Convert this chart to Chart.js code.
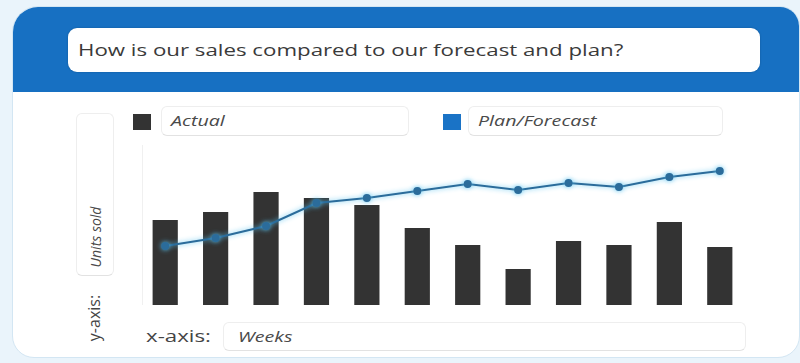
<!DOCTYPE html>
<html>
<head>
<meta charset="utf-8">
<script src="https://cdn.jsdelivr.net/npm/chart.js@4/dist/chart.umd.min.js"></script>
<style>
    html, body {
        margin: 0;
        padding: 0;
        width: 800px;
        height: 363px;
        overflow: hidden;
        background: #eaf4fb;
        font-family: "Open Sans", "Noto Sans", sans-serif;
    }
    #frame {
        position: absolute;
        left: 12px;
        top: 6px;
        width: 786px;
        height: 350px;
        background: #ffffff;
        border: 1px solid #d3e6f3;
        border-radius: 26px 20px 22px 22px;
        overflow: hidden;
    }
    #header {
        position: absolute;
        left: 0;
        top: 0;
        width: 100%;
        height: 85px;
        background: #1770c2;
    }
    #question {
        position: absolute;
        left: 55px;
        top: 21px;
        width: 692px;
        height: 44px;
        background: #ffffff;
        border-radius: 9px;
        box-shadow: 0 0 2px rgba(0, 0, 0, 0.25);
        font-size: 17px;
        line-height: 44px;
        color: #3a3a3a;
        padding-left: 10px;
        box-sizing: border-box;
    }
    /* текст в этом макете шире обычного */
    .wide {
        display: inline-block;
        transform: scaleX(1.31);
        transform-origin: left center;
        white-space: nowrap;
    }
    .box {
        position: absolute;
        background: #ffffff;
        border: 1px solid #eeeeee;
        border-bottom-color: #e2e2e2;
        border-radius: 6px;
        box-sizing: border-box;
    }
    .italic {
        font-style: italic;
        font-size: 15px;
        color: #4a4a4a;
    }
    .swatch {
        position: absolute;
        width: 18px;
        height: 16px;
    }
    .rot {
        position: absolute;
        transform: translate(-50%, -50%) rotate(-90deg);
        white-space: nowrap;
    }
    #chartWrap {
        position: absolute;
        left: 127px;
        top: 138px;
        width: 605px;
        height: 160px;
    }
</style>
</head>
<body>
<div id="frame">
    <div id="header">
        <div id="question"><span class="wide">How is our sales compared to our forecast and plan?</span></div>
    </div>

    <div class="box" style="left:63px; top:106px; width:38px; height:163px;"></div>
    <div class="rot italic" style="left:82px; top:230px; font-size:14px;">Units sold</div>
    <div class="rot" style="left:81px; top:311px; font-size:16px; color:#444;">y-axis:</div>

    <div id="legend"></div>

    <div id="chartWrap"><canvas id="chart"></canvas></div>

    <div style="position:absolute; left:133px; top:317px; font-size:17px; color:#444;"><span class="wide">x-axis:</span></div>
    <div class="box" style="left:210px; top:315px; width:523px; height:29px;"></div>
    <div class="italic" style="position:absolute; left:225px; top:319px;"><span class="wide">Weeks</span></div>
</div>

<script>
// Weekly sales vs plan
const weeks = ['W1', 'W2', 'W3', 'W4', 'W5', 'W6', 'W7', 'W8', 'W9', 'W10', 'W11', 'W12'];
const actualUnits = [85, 93, 113, 107, 100, 77, 60, 36, 64, 60, 83, 58];
const planUnits = [59, 67, 79, 102, 107, 114, 121, 115, 122, 118, 128, 134];

const actualLabel = 'Actual';
const planLabel = 'Plan/Forecast';
const actualColor = '#333333';
const planColor = '#2b6c9b';
const planSwatch = '#1a73c6';

// Легенда в отдельных рамках
const legendItems = [
    { label: actualLabel, color: actualColor, swatchLeft: 120, boxLeft: 148, boxWidth: 248 },
    { label: planLabel, color: planSwatch, swatchLeft: 430, boxLeft: 455, boxWidth: 255 }
];
const legend = document.getElementById('legend');
legendItems.forEach(item => {
    const sw = document.createElement('div');
    sw.className = 'swatch';
    sw.style.left = item.swatchLeft + 'px';
    sw.style.top = '107px';
    sw.style.background = item.color;
    legend.appendChild(sw);

    const box = document.createElement('div');
    box.className = 'box';
    box.style.left = item.boxLeft + 'px';
    box.style.top = '99px';
    box.style.width = item.boxWidth + 'px';
    box.style.height = '30px';
    legend.appendChild(box);

    const txt = document.createElement('div');
    txt.className = 'italic';
    txt.style.position = 'absolute';
    txt.style.left = (item.boxLeft + 10) + 'px';
    txt.style.top = '103px';
    const span = document.createElement('span');
    span.className = 'wide';
    span.textContent = item.label;
    txt.appendChild(span);
    legend.appendChild(txt);
});

// Базовая линия и левая граница области графика
const axisLines = {
    id: 'axisLines',
    beforeDatasetsDraw(chart) {
        const { ctx, chartArea, scales } = chart;
        const y0 = scales.y.getPixelForValue(0);
        ctx.save();
        ctx.strokeStyle = '#e4e4e4';
        ctx.lineWidth = 1;
        ctx.beginPath();
        ctx.moveTo(chartArea.left, y0 + 0.5);
        ctx.lineTo(chartArea.right, y0 + 0.5);
        ctx.stroke();
        ctx.strokeStyle = '#f0f0f0';
        ctx.beginPath();
        ctx.moveTo(chartArea.left + 2.5, chartArea.top);
        ctx.lineTo(chartArea.left + 2.5, y0);
        ctx.stroke();
        ctx.restore();
    }
};

// Светлое свечение вокруг линии плана
const lineGlow = {
    id: 'lineGlow',
    beforeDatasetDraw(chart, args) {
        if (args.meta.type !== 'line') return;
        chart.ctx.save();
        chart.ctx.shadowColor = 'rgba(90, 195, 240, 0.9)';
        chart.ctx.shadowBlur = 5;
    },
    afterDatasetDraw(chart, args) {
        if (args.meta.type !== 'line') return;
        chart.ctx.restore();
    }
};

new Chart(document.getElementById('chart').getContext('2d'), {
    data: {
        labels: weeks,
        datasets: [
            {
                type: 'line',
                label: planLabel,
                data: planUnits,
                borderColor: planColor,
                backgroundColor: planColor,
                borderWidth: 2,
                pointRadius: 4,
                pointBorderWidth: 0,
                tension: 0,
                order: 0,
                clip: false
            },
            {
                type: 'bar',
                label: actualLabel,
                data: actualUnits,
                backgroundColor: actualColor,
                categoryPercentage: 1,
                barPercentage: 0.5,
                order: 1
            }
        ]
    },
    options: {
        responsive: true,
        maintainAspectRatio: false,
        animation: false,
        layout: { padding: 0, autoPadding: false },
        plugins: {
            legend: { display: false },
            tooltip: { enabled: false }
        },
        scales: {
            x: { display: false },
            y: { display: false, min: 0, max: 160 }
        }
    },
    plugins: [axisLines, lineGlow]
});
</script>
</body>
</html>
